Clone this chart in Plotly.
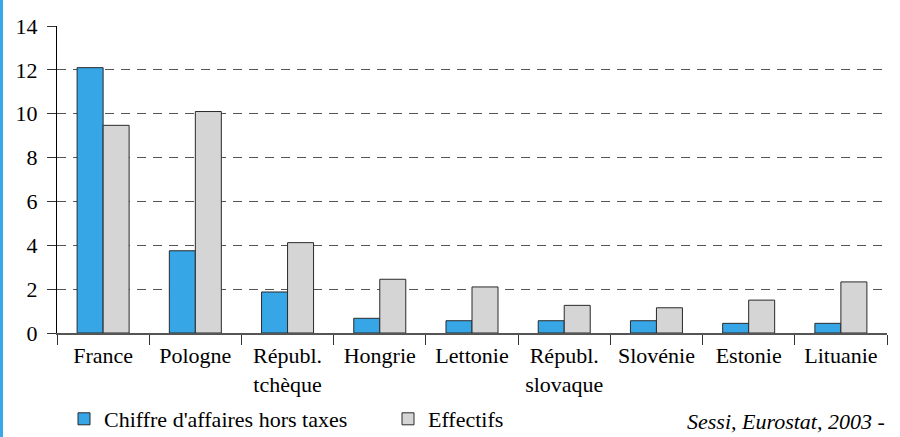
import plotly.graph_objects as go

# pays et valeurs
PAYS = ["France", "Pologne", "Républ.<br>tchèque", "Hongrie", "Lettonie",
        "Républ.<br>slovaque", "Slovénie", "Estonie", "Lituanie"]
CA_HT = [12.1, 3.75, 1.87, 0.67, 0.56, 0.56, 0.56, 0.44, 0.44]
EFFECTIFS = [9.47, 10.1, 4.12, 2.45, 2.1, 1.26, 1.15, 1.5, 2.33]
Y_TICKS = [0, 2, 4, 6, 8, 10, 12, 14]
GRID_VALS = [2, 4, 6, 8, 10, 12]

BLUE = "#36a6e6"; GREY = "#d5d5d5"; EDGE = "#2a2a2a"
FONT = "Liberation Serif, Times New Roman, serif"
W, H = 900, 437
L, R, T, B = 57, 13, 26, 104
PW, PH = W - L - R, H - T - B

fig = go.Figure()
fig.add_trace(go.Bar(x=PAYS, y=CA_HT, name="Chiffre d'affaires hors taxes",
                     marker=dict(color=BLUE, line=dict(color=EDGE, width=1))))
fig.add_trace(go.Bar(x=PAYS, y=EFFECTIFS, name="Effectifs",
                     marker=dict(color=GREY, line=dict(color=EDGE, width=1))))

fig.update_layout(
    width=W, height=H, margin=dict(l=L, r=R, t=T, b=B, autoexpand=False),
    paper_bgcolor="white", plot_bgcolor="white",
    font=dict(family=FONT, size=22, color="black"),
    barmode="group", bargap=0.436, bargroupgap=0,
    legend=dict(orientation="h", x=7 / PW, xanchor="left", y=-86 / PH, yanchor="middle",
                font=dict(size=22), entrywidth=279, entrywidthmode="pixels",
                bgcolor="rgba(0,0,0,0)"),
    annotations=[dict(text="<i>Sessi, Eurostat, 2003 -</i>", xref="paper", yref="paper",
                      x=1, y=-88 / PH, xanchor="right", yanchor="middle", showarrow=False,
                      font=dict(size=22))],
    shapes=[dict(type="rect", xref="paper", yref="paper", x0=-L / PW, x1=-(L - 3) / PW,
                 y0=-B / PH, y1=1 + T / PH, fillcolor="#3aa8e8", line=dict(width=0))],
)
fig.update_xaxes(showline=True, linecolor="#555555", linewidth=1.5, automargin=False,
                 ticks="outside", tickson="boundaries", ticklen=10, tickcolor="#333333",
                 showgrid=False, ticklabelstandoff=2)
fig.update_yaxes(range=[0, 14], tickvals=Y_TICKS, showline=True, linecolor="black", linewidth=1,
                 automargin=False, ticklabelstandoff=5,
                 ticks="outside", ticklen=9, tickcolor="#333333", showgrid=False, zeroline=False,
                 minor=dict(tickvals=GRID_VALS, showgrid=True, gridcolor="#555555", gridwidth=1,
                            griddash="9px,7px", ticks=""))

# pas de marge de page autour du graphique
fig.write_html("out.html", config={"displayModeBar": False},
               post_script="document.body.style.margin='0';")
